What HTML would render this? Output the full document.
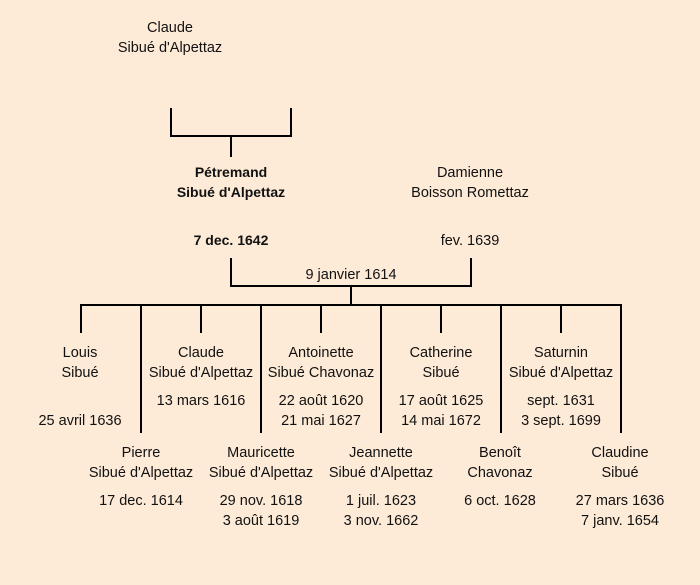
<!DOCTYPE html>
<html><head><meta charset="utf-8"><style>
html,body{margin:0;padding:0;background:#fdebd8;}
svg{display:block}
text{font-family:"Liberation Sans","DejaVu Sans",sans-serif;font-size:14.5px;fill:#111;text-anchor:middle}
.b{font-weight:bold;font-size:14px}
</style></head><body>
<svg width="700" height="585" viewBox="0 0 700 585">
<rect width="700" height="585" fill="#fdebd8"/>
<g stroke="#000" stroke-width="2" fill="none">
<path d="M171 108V136H291V108M231 136V157"/>
<path d="M231 258V286H471V258M351 286V305M80 305H622"/>
<path d="M81 305V333M201 305V333M321 305V333M441 305V333M561 305V333"/>
<path d="M141 305V433M261 305V433M381 305V433M501 305V433M621 305V433"/>
</g>
<text x="170" y="32">Claude</text><text x="170" y="52">Sibué d'Alpettaz</text>
<text class="b" x="231" y="177">Pétremand</text><text class="b" x="231" y="197">Sibué d'Alpettaz</text>
<text class="b" x="231" y="245">7 dec. 1642</text>
<text x="470" y="177">Damienne</text><text x="470" y="197">Boisson Romettaz</text>
<text x="470" y="245">fev. 1639</text>
<text x="351" y="279">9 janvier 1614</text>

<text x="80" y="357">Louis</text><text x="80" y="377">Sibué</text><text x="80" y="425">25 avril 1636</text>
<text x="201" y="357">Claude</text><text x="201" y="377">Sibué d'Alpettaz</text><text x="201" y="405">13 mars 1616</text>
<text x="321" y="357">Antoinette</text><text x="321" y="377">Sibué Chavonaz</text><text x="321" y="405">22 août 1620</text><text x="321" y="425">21 mai 1627</text>
<text x="441" y="357">Catherine</text><text x="441" y="377">Sibué</text><text x="441" y="405">17 août 1625</text><text x="441" y="425">14 mai 1672</text>
<text x="561" y="357">Saturnin</text><text x="561" y="377">Sibué d'Alpettaz</text><text x="561" y="405">sept. 1631</text><text x="561" y="425">3 sept. 1699</text>

<text x="141" y="457">Pierre</text><text x="141" y="477">Sibué d'Alpettaz</text><text x="141" y="505">17 dec. 1614</text>
<text x="261" y="457">Mauricette</text><text x="261" y="477">Sibué d'Alpettaz</text><text x="261" y="505">29 nov. 1618</text><text x="261" y="525">3 août 1619</text>
<text x="381" y="457">Jeannette</text><text x="381" y="477">Sibué d'Alpettaz</text><text x="381" y="505">1 juil. 1623</text><text x="381" y="525">3 nov. 1662</text>
<text x="500" y="457">Benoît</text><text x="500" y="477">Chavonaz</text><text x="500" y="505">6 oct. 1628</text>
<text x="620" y="457">Claudine</text><text x="620" y="477">Sibué</text><text x="620" y="505">27 mars 1636</text><text x="620" y="525">7 janv. 1654</text>
</svg>
</body></html>
